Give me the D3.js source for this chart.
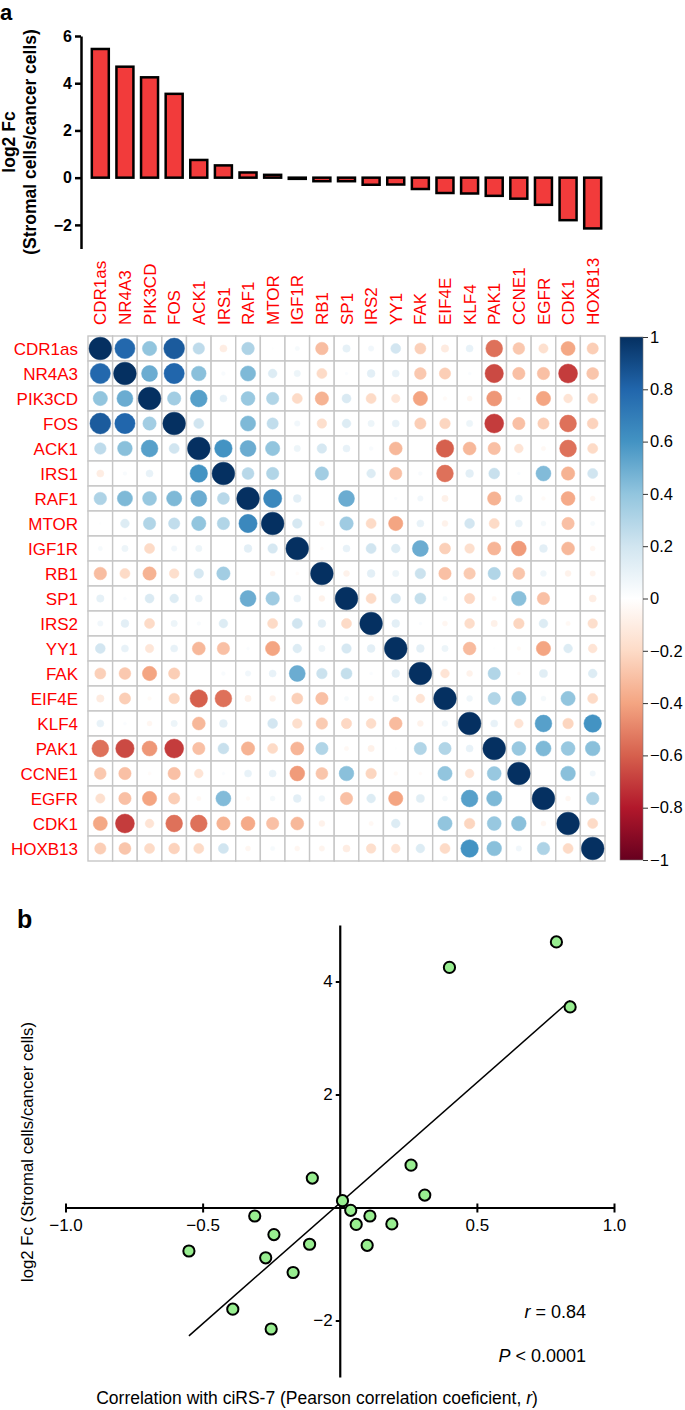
<!DOCTYPE html>
<html><head><meta charset="utf-8">
<script src="https://cdn.jsdelivr.net/npm/d3@7"></script>
<style>
body{margin:0;background:#fff;}
svg{display:block;font-family:"Liberation Sans",Arial,Helvetica,sans-serif;}
</style>
</head><body>
<svg id="chart" width="685" height="1410"></svg>
<script>
// ---------- DATA ----------
const genes = ["CDR1as","NR4A3","PIK3CD","FOS","ACK1","IRS1","RAF1","MTOR","IGF1R","RB1","SP1",
  "IRS2","YY1","FAK","EIF4E","KLF4","PAK1","CCNE1","EGFR","CDK1","HOXB13"];
const log2fc = [5.45,4.70,4.25,3.55,0.75,0.52,0.22,0.12,-0.05,-0.15,-0.15,
  -0.30,-0.29,-0.48,-0.65,-0.67,-0.77,-0.89,-1.15,-1.80,-2.15];
// lower triangle of the correlation matrix (row i, columns 0..i-1)
const corrLower = [
  [],
  [0.79],
  [0.40,0.50],
  [0.84,0.80,0.35],
  [0.26,0.42,0.55,0.20],
  [-0.10,0.03,0.10,0.00,0.60],
  [0.31,0.45,0.38,0.45,0.50,0.28],
  [0.01,0.15,0.30,0.25,0.40,0.30,0.65],
  [0.04,0.08,-0.20,0.06,0.08,0.00,0.12,0.18],
  [-0.31,-0.20,-0.35,-0.18,0.18,0.35,0.00,-0.05,-0.02],
  [0.11,0.02,0.16,0.15,0.10,0.00,0.50,0.36,0.10,-0.07],
  [0.06,0.12,-0.20,0.08,0.03,0.15,0.00,-0.20,0.20,0.12,-0.20],
  [0.19,0.10,-0.14,0.10,-0.33,-0.30,0.02,-0.40,0.15,0.08,0.18,0.12],
  [-0.24,-0.27,-0.40,-0.25,0.00,0.03,0.06,0.10,0.50,0.22,0.24,0.02,0.12],
  [-0.11,-0.25,-0.03,-0.22,-0.60,-0.55,-0.08,-0.07,-0.24,-0.30,0.04,-0.05,0.08,-0.15],
  [0.10,0.02,-0.05,0.08,-0.33,0.12,0.00,0.19,-0.18,-0.26,-0.21,-0.19,-0.32,-0.07,0.07],
  [-0.55,-0.66,-0.44,-0.70,-0.30,0.23,-0.35,-0.20,-0.34,0.30,-0.04,-0.08,0.01,0.30,0.30,0.10],
  [-0.27,-0.30,-0.02,-0.30,-0.15,0.02,0.10,0.10,-0.43,-0.28,0.42,-0.22,-0.03,-0.02,0.40,-0.15,0.38],
  [-0.17,-0.30,-0.40,-0.25,-0.04,0.44,-0.03,0.05,0.12,0.07,-0.30,0.15,-0.40,0.13,0.05,0.55,0.45,0.00],
  [-0.39,-0.70,-0.15,-0.55,-0.55,-0.35,-0.38,-0.30,-0.33,-0.07,0.00,-0.04,0.15,0.00,0.40,-0.22,0.38,0.42,-0.05],
  [-0.25,-0.28,-0.20,-0.23,-0.20,0.20,-0.05,0.04,-0.05,-0.06,-0.10,-0.18,-0.15,0.15,-0.20,0.60,0.42,0.06,0.31,-0.20]
];
const paletteColors = ["#67001F","#B2182B","#D6604D","#F4A582","#FDDBC7","#FFFFFF","#D1E5F0","#92C5DE","#4393C3","#2166AC","#053061"];
const colorbarTicks = [1,0.8,0.6,0.4,0.2,0,-0.2,-0.4,-0.6,-0.8,-1];
const barYTicks = [-2,0,2,4,6];
const scatterXTicks = [-1,-0.5,0.5,1];
const scatterYTicks = [-2,2,4];
const statR = "0.84";
const statP = "0.0001";

// ---------- SETUP ----------
const svg = d3.select("#chart");
const fmtMinus = v => String(v).replace("-", "\u2212");
const corr = genes.map((g,i)=>genes.map((h,j)=> i===j ? 1 : (j<i ? corrLower[i][j] : corrLower[j][i])));

const color = d3.scaleLinear()
  .domain(d3.range(paletteColors.length).map(i=>-1+2*i/(paletteColors.length-1)))
  .range(paletteColors).interpolate(d3.interpolateRgb).clamp(true);

// panel labels
svg.append("text").attr("x",0).attr("y",20).attr("font-size",22).attr("font-weight","bold").text("a");
svg.append("text").attr("x",17).attr("y",928).attr("font-size",25).attr("font-weight","bold").text("b");

// ---------- MATRIX ----------
const mx = d3.scaleBand().domain(genes).range([88,605]);
const my = d3.scaleBand().domain(genes).range([336,861]);
const cw = mx.bandwidth(), ch = my.bandwidth();

const cells = [];
genes.forEach((g,i)=>genes.forEach((h,j)=>cells.push({row:g,col:h,v:corr[i][j]})));

const mg = svg.append("g");
mg.selectAll("rect.cell").data(cells).join("rect").attr("class","cell")
  .attr("x",d=>mx(d.col)).attr("y",d=>my(d.row)).attr("width",cw).attr("height",ch)
  .attr("fill","white").attr("stroke","#c6c6c6").attr("stroke-width",1.4);
const rMax = 0.46*Math.min(cw,ch);
mg.selectAll("circle.c").data(cells).join("circle").attr("class","c")
  .attr("cx",d=>mx(d.col)+cw/2).attr("cy",d=>my(d.row)+ch/2)
  .attr("r",d=>rMax*Math.sqrt(Math.abs(d.v)))
  .attr("fill",d=>color(d.v)).attr("stroke",d=>color(d.v)).attr("stroke-width",0.5);

// row labels
svg.append("g").selectAll("text").data(genes).join("text")
  .attr("x",78).attr("y",d=>my(d)+ch/2).attr("dy","0.36em")
  .attr("text-anchor","end").attr("fill","#ff0000").attr("font-size",17).text(d=>d);
// column labels
svg.append("g").selectAll("text").data(genes).join("text")
  .attr("transform",d=>`translate(${mx(d)+cw/2},325) rotate(-90)`).attr("dy","0.36em")
  .attr("text-anchor","start").attr("fill","#ff0000").attr("font-size",17).text(d=>d);

// colorbar
const grad = svg.append("defs").append("linearGradient").attr("id","cbar")
  .attr("x1",0).attr("y1",1).attr("x2",0).attr("y2",0);
paletteColors.forEach((c,i)=>grad.append("stop").attr("offset",i/(paletteColors.length-1)).attr("stop-color",c));
const cy = d3.scaleLinear().domain([-1,1]).range([860,337]);
svg.append("rect").attr("x",620).attr("y",cy(1)).attr("width",23).attr("height",cy(-1)-cy(1))
  .attr("fill","url(#cbar)").attr("stroke","#777").attr("stroke-width",0.6);
const cAxis = svg.append("g").attr("transform","translate(643,0)")
  .call(d3.axisRight(cy).tickValues(colorbarTicks).tickSize(5).tickFormat(d=>fmtMinus(d)));
cAxis.select(".domain").remove();
cAxis.selectAll("line").attr("stroke","#333");
cAxis.selectAll("text").attr("font-size",16.5).attr("fill","#000").attr("font-family","Liberation Sans, Arial, sans-serif").attr("x",7);

// ---------- BAR CHART ----------
const bx = d3.scaleBand().domain(genes).range([88,605]).paddingInner(0.31).paddingOuter(0.155);
const by = d3.scaleLinear().domain([-3,6]).range([248.5,36]);
svg.append("g").selectAll("rect").data(genes.map((g,i)=>({g,v:log2fc[i]}))).join("rect")
  .attr("x",d=>bx(d.g)).attr("width",bx.bandwidth())
  .attr("y",d=>by(Math.max(0,d.v))).attr("height",d=>Math.abs(by(d.v)-by(0)))
  .attr("fill","#f23b3b").attr("stroke","#000").attr("stroke-width",2.5);
const byAxis = svg.append("g").attr("transform","translate(81,0)")
  .call(d3.axisLeft(by).tickValues(barYTicks).tickSize(6).tickSizeOuter(0).tickFormat(d=>fmtMinus(d)));
byAxis.select(".domain").attr("stroke-width",2.5);
byAxis.selectAll("line").attr("stroke-width",2.5);
byAxis.selectAll("text").attr("font-size",16).attr("font-weight","bold").attr("fill","#000")
  .attr("font-family","Liberation Sans, Arial, sans-serif");
const byt = svg.append("text").attr("transform","translate(0,142) rotate(-90)")
  .attr("text-anchor","middle").attr("font-size",17.5).attr("font-weight","bold");
byt.append("tspan").attr("x",0).attr("y",15).text("log2 Fc");
byt.append("tspan").attr("x",0).attr("y",36).text("(Stromal cells/cancer cells)");

// ---------- SCATTER ----------
const sx = d3.scaleLinear().domain([-1,1]).range([65.5,614]);
const sy = d3.scaleLinear().domain([-3,5]).range([1377,925]);
const pts = genes.slice(1).map((g,i)=>({g, x:corr[0][i+1], y:log2fc[i+1]}));

const sxAxis = svg.append("g").attr("transform",`translate(0,${sy(0)})`)
  .call(d3.axisBottom(sx).tickValues(scatterXTicks).tickSize(5).tickSizeOuter(0)
    .tickFormat(d=>fmtMinus(d3.format(".1f")(d))));
sxAxis.select(".domain").attr("stroke-width",2.2);
sxAxis.selectAll(".tick line").attr("stroke-width",2).attr("y1",-4);
sxAxis.selectAll("text").attr("font-size",17).attr("fill","#000").attr("y",11)
  .attr("font-family","Liberation Sans, Arial, sans-serif");

const syAxis = svg.append("g").attr("transform",`translate(${sx(0)},0)`)
  .call(d3.axisLeft(sy).tickValues(scatterYTicks).tickSize(4).tickSizeOuter(0).tickFormat(d=>fmtMinus(d)));
syAxis.select(".domain").attr("stroke-width",2.2);
syAxis.selectAll(".tick line").attr("stroke-width",2);
syAxis.selectAll("text").attr("font-size",17).attr("fill","#000")
  .attr("font-family","Liberation Sans, Arial, sans-serif");

// regression line
const mxv = d3.mean(pts,d=>d.x), myv = d3.mean(pts,d=>d.y);
const slope = d3.sum(pts,d=>(d.x-mxv)*(d.y-myv))/d3.sum(pts,d=>(d.x-mxv)**2);
const icpt = myv - slope*mxv;
const [x0,x1] = d3.extent(pts,d=>d.x);
svg.append("line").attr("x1",sx(x0)).attr("y1",sy(icpt+slope*x0)).attr("x2",sx(x1)).attr("y2",sy(icpt+slope*x1))
  .attr("stroke","#000").attr("stroke-width",1.5);

svg.append("g").selectAll("circle").data(pts).join("circle")
  .attr("cx",d=>sx(d.x)).attr("cy",d=>sy(d.y)).attr("r",5.6)
  .attr("fill","#98ee90").attr("stroke","#000").attr("stroke-width",2);

// stats
const tr = svg.append("text").attr("x",586).attr("y",1318).attr("text-anchor","end").attr("font-size",18);
tr.append("tspan").attr("font-style","italic").text("r");
tr.append("tspan").text(" = "+statR);
const tp = svg.append("text").attr("x",586).attr("y",1362).attr("text-anchor","end").attr("font-size",18);
tp.append("tspan").attr("font-style","italic").text("P");
tp.append("tspan").text(" < "+statP);

// axis titles
const xt = svg.append("text").attr("x",317).attr("y",1404).attr("text-anchor","middle").attr("font-size",17.5);
xt.append("tspan").text("Correlation with ciRS-7 (Pearson correlation coeficient, ");
xt.append("tspan").attr("font-style","italic").text("r");
xt.append("tspan").text(")");
svg.append("text").attr("transform","translate(33,1152) rotate(-90)").attr("text-anchor","middle")
  .attr("font-size",16.8).text("log2 Fc (Stromal cells/cancer cells)");
</script>
</body></html>
